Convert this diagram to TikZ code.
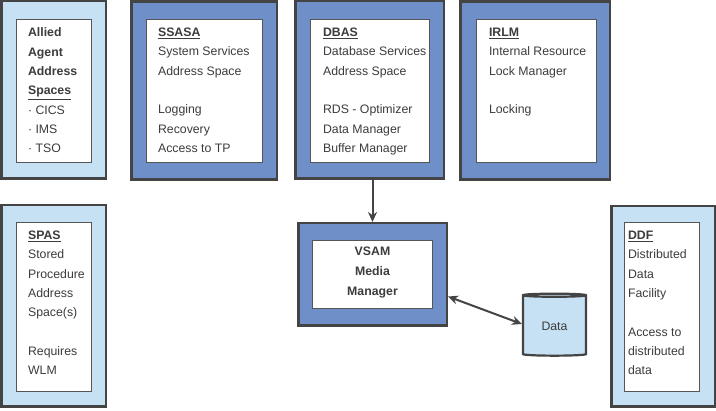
\documentclass[tikz,border=0pt]{standalone}
\usepackage{fontspec}
\setmainfont{Liberation Sans}
\usetikzlibrary{positioning,shapes.geometric,arrows.meta}
\definecolor{asDark}{HTML}{6F8FC8}
\definecolor{asLight}{HTML}{C6E0F4}
\definecolor{asStroke}{HTML}{444444}
\definecolor{inStroke}{HTML}{555555}
\definecolor{txtCol}{HTML}{3C3C3C}

\begin{document}
\begin{tikzpicture}[
  x=1pt, y=-1pt,
  font=\fontsize{12.3}{19.3}\selectfont,
  >={Stealth[length=10pt,width=9pt]},
  darkas/.style={draw=asStroke, fill=asDark, line width=2.5pt, inner sep=0pt},
  lightas/.style={draw=asStroke, fill=asLight, line width=2.5pt, inner sep=0pt},
  innerbox/.style={draw=inStroke, fill=white, line width=1.3pt, inner sep=0pt},
  body/.style={anchor=north west, align=left, inner sep=0pt, text=txtCol},
  hdr/.style={font=\fontsize{12.3}{20}\selectfont\bfseries, align=center, inner sep=0pt, text=txtCol},
  link/.style={draw=asStroke, line width=2pt}
]
\useasboundingbox (0,0) rectangle (716,411);

% ============================================================
% TOP ROW: address spaces
% ============================================================
\node[lightas, minimum width=104.5, minimum height=177.5] (allied) at (53.5,90) {};
\node[innerbox, minimum width=75, minimum height=143] (inAllied) at (54,91) {};
\node[body] (txAllied) at ([xshift=12pt,yshift=-9pt]inAllied.north west)
  {\textbf{Allied}\\\textbf{Agent}\\\textbf{Address}\\\textbf{\underline{Spaces}}\\· CICS\\· IMS\\· TSO};

\node[darkas, minimum width=145.5, minimum height=178] (ssasa) at (204,90.5) {};
\node[innerbox, minimum width=116, minimum height=143] (inSsasa) at (204.5,91) {};
\node[body] (txSsasa) at ([xshift=12pt,yshift=-9pt]inSsasa.north west)
  {\textbf{\underline{SSASA}}\\System Services\\Address Space\\[19.3pt]Logging\\Recovery\\Access to TP};

\node[darkas, minimum width=148.5, minimum height=177.5] (dbas) at (369.5,90) {};
\node[innerbox, minimum width=119, minimum height=143] (inDbas) at (370,91) {};
\node[body] (txDbas) at ([xshift=13pt,yshift=-9pt]inDbas.north west)
  {\textbf{\underline{DBAS}}\\Database Services\\Address Space\\[19.3pt]RDS - Optimizer\\Data Manager\\Buffer Manager};

\node[darkas, minimum width=149.5, minimum height=178] (irlm) at (535,90.5) {};
\node[innerbox, minimum width=120, minimum height=143] (inIrlm) at (536.5,91) {};
\node[body] (txIrlm) at ([xshift=13pt,yshift=-9pt]inIrlm.north west)
  {\textbf{\underline{IRLM}}\\Internal Resource\\Lock Manager\\[19.3pt]Locking};

% ============================================================
% BOTTOM ROW: SPAS, VSAM, data, DDF
% ============================================================
\node[lightas, minimum width=104.5, minimum height=201.5] (spas) at (53.5,306) {};
\node[innerbox, minimum width=75, minimum height=169] (inSpas) at (54,307) {};
\node[body] (txSpas) at ([xshift=12pt,yshift=-9pt]inSpas.north west)
  {\textbf{\underline{SPAS}}\\Stored\\Procedure\\Address\\Space(s)\\[19.3pt]Requires\\WLM};

\node[darkas, minimum width=148.5, minimum height=102.5] (vsam) at (372.5,274.5) {};
\node[innerbox, minimum width=120, minimum height=68] (inVsam) at (372.5,274.5) {};
\node[hdr] (txVsam) at ([yshift=2pt]inVsam.center) {VSAM\\Media\\Manager};

\node[cylinder, shape border rotate=90, aspect=0.12, draw=asStroke, fill=asLight,
  line width=2.2pt, minimum width=63, minimum height=62, inner sep=0pt,
  text=txtCol] (data) at (554.5,326) {Data};

\node[lightas, minimum width=103.5, minimum height=200.5] (ddf) at (663,306.5) {};
\node[innerbox, minimum width=75, minimum height=169] (inDdf) at (662,307) {};
\node[body] (txDdf) at ([xshift=4pt,yshift=-9pt]inDdf.north west)
  {\textbf{\underline{DDF}}\\Distributed\\Data\\Facility\\[19.3pt]Access to\\distributed\\data};

% ============================================================
% CONNECTORS
% ============================================================
\draw[link, ->] (dbas.south -| vsam.north) -- (vsam.north);
\draw[link, <->] ([yshift=-22pt]vsam.east) -- ([yshift=2pt]data.west);

\end{tikzpicture}
\end{document}
